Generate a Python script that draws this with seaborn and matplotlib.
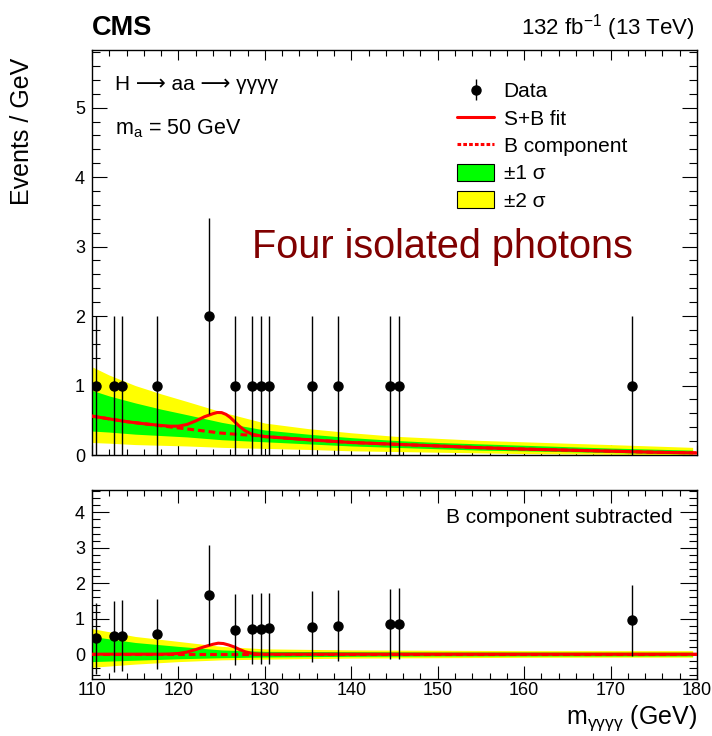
import numpy as np
import matplotlib
matplotlib.use("Agg")
import matplotlib.pyplot as plt
import seaborn as sns
from matplotlib.ticker import MultipleLocator
from matplotlib.patches import Patch
from matplotlib.lines import Line2D

# ---------------- data ----------------
bin_centers = [110.5, 112.5, 113.5, 117.5, 123.5, 126.5, 128.5, 129.5, 130.5,
               135.5, 138.5, 144.5, 145.5, 172.5]
counts = [1, 1, 1, 1, 2, 1, 1, 1, 1, 1, 1, 1, 1, 1]
count_err = [1, 1, 1, 1, 1.41, 1, 1, 1, 1, 1, 1, 1, 1, 1]
residuals = [0.45, 0.50, 0.52, 0.57, 1.66, 0.69, 0.71, 0.72, 0.73,
             0.78, 0.80, 0.85, 0.86, 0.95]

# fit curves, top panel
fit_x = [110, 112, 114, 116, 118, 119, 120, 121, 122, 123, 124, 124.5, 125,
         125.5, 126, 126.5, 127, 127.7, 128.5, 129.5, 130, 135, 140, 145, 150,
         155, 160, 165, 170, 175, 180]
sb_top = [0.56, 0.52, 0.48, 0.45, 0.425, 0.415, 0.415, 0.44, 0.49, 0.55, 0.595,
          0.612, 0.61, 0.585, 0.54, 0.48, 0.42, 0.35, 0.30, 0.275, 0.265, 0.22,
          0.18, 0.155, 0.13, 0.105, 0.085, 0.07, 0.055, 0.04, 0.03]
b_top = [0.56, 0.52, 0.48, 0.45, 0.42, 0.405, 0.39, 0.375, 0.36, 0.345, 0.33,
         0.32, 0.315, 0.31, 0.305, 0.30, 0.295, 0.29, 0.285, 0.275, 0.265, 0.22,
         0.18, 0.155, 0.13, 0.105, 0.085, 0.07, 0.055, 0.04, 0.03]

# uncertainty bands, top panel
top_band_x = [110, 112, 115, 118, 121, 125, 130, 135, 140, 145, 150, 155, 160, 170, 179.5]
top_2hi = [1.27, 1.15, 1.00, 0.88, 0.77, 0.62, 0.46, 0.38, 0.32, 0.27, 0.24, 0.21, 0.19, 0.15, 0.11]
top_1hi = [0.93, 0.85, 0.75, 0.66, 0.58, 0.47, 0.36, 0.30, 0.25, 0.21, 0.18, 0.16, 0.14, 0.10, 0.07]
top_1lo = [0.345, 0.33, 0.30, 0.28, 0.26, 0.22, 0.19, 0.16, 0.13, 0.11, 0.09, 0.07, 0.06, 0.035, 0.015]
top_2lo = [0.18, 0.17, 0.15, 0.14, 0.13, 0.11, 0.095, 0.08, 0.06, 0.05, 0.04, 0.03, 0.02, 0.01, 0.0]

# bottom panel (B component subtracted)
sig_x = [110, 118, 119, 120, 121, 122, 123, 124, 124.6, 125.2, 125.8, 126.5, 127,
         127.7, 128.5, 129.5, 180]
sig_bot = [0, 0, 0.005, 0.02, 0.06, 0.13, 0.21, 0.28, 0.31, 0.30, 0.26, 0.20,
           0.14, 0.07, 0.02, 0, 0]
b_bot_x = [110, 180]
b_bot = [0, 0]
bot_band_x = [110, 115, 120, 125, 130, 140, 150, 160, 170, 179.5]
bot_2hi = [0.72, 0.50, 0.36, 0.22, 0.15, 0.12, 0.11, 0.10, 0.10, 0.10]
bot_1hi = [0.50, 0.33, 0.22, 0.12, 0.08, 0.07, 0.06, 0.06, 0.055, 0.055]
bot_1lo = [-0.21, -0.17, -0.13, -0.10, -0.08, -0.06, -0.05, -0.05, -0.05, -0.05]
bot_2lo = [-0.37, -0.28, -0.21, -0.16, -0.14, -0.11, -0.10, -0.09, -0.085, -0.085]

# ---------------- style ----------------
sns.set_theme(style="ticks")
plt.rcParams["font.family"] = ["Liberation Sans", "DejaVu Sans"]
plt.rcParams["mathtext.fontset"] = "custom"
plt.rcParams["mathtext.rm"] = "Liberation Sans"
plt.rcParams["mathtext.it"] = "Liberation Sans:italic"
plt.rcParams["axes.linewidth"] = 1.0
for key in ("text.color", "axes.labelcolor", "xtick.color", "ytick.color",
            "axes.edgecolor", "xtick.labelcolor", "ytick.labelcolor"):
    plt.rcParams[key] = "black"

YELLOW = "#ffff00"
GREEN = "#00ff00"
RED = "#ff0000"

W, H = 712, 736
fig = plt.figure(figsize=(W / 100, H / 100), dpi=100)


def px_axes(l, t, r, b):
    return fig.add_axes([l / W, 1 - b / H, (r - l) / W, (b - t) / H])


ax1 = px_axes(92, 50, 697, 455)
ax2 = px_axes(92, 490, 697, 679)

# ---------------- top panel ----------------
ax1.fill_between(top_band_x, top_2lo, top_2hi, color=YELLOW, lw=0, zorder=1)
ax1.fill_between(top_band_x, top_1lo, top_1hi, color=GREEN, lw=0, zorder=2)
sns.lineplot(x=fit_x, y=b_top, ax=ax1, color=RED, lw=2.2, linestyle=(0, (2.2, 1.3)), zorder=3)
sns.lineplot(x=fit_x, y=sb_top, ax=ax1, color=RED, lw=2.2, zorder=4)
eb = ax1.errorbar(bin_centers, counts, yerr=count_err, fmt="o", color="black",
                  ms=6.5, elinewidth=1.0, capsize=0, zorder=5)

ax1.set_xlim(110, 180)
ax1.set_ylim(0, 5.83)

# ---------------- bottom panel ----------------
ax2.fill_between(bot_band_x, bot_2lo, bot_2hi, color=YELLOW, lw=0, zorder=1)
ax2.fill_between(bot_band_x, bot_1lo, bot_1hi, color=GREEN, lw=0, zorder=2)
sns.lineplot(x=b_bot_x, y=b_bot, ax=ax2, color=RED, lw=2.2, linestyle=(0, (2.2, 1.3)), zorder=3)
sns.lineplot(x=sig_x, y=sig_bot, ax=ax2, color=RED, lw=2.2, zorder=4)
ax2.errorbar(bin_centers, residuals, yerr=count_err, fmt="o", color="black",
             ms=6.5, elinewidth=1.0, capsize=0, zorder=5)
ax2.set_xlim(110, 180)
ax2.set_ylim(-0.7, 4.63)

# ---------------- ticks ----------------
for ax in (ax1, ax2):
    ax.xaxis.set_major_locator(MultipleLocator(10))
    ax.xaxis.set_minor_locator(MultipleLocator(2))
    ax.yaxis.set_major_locator(MultipleLocator(1))
    ax.yaxis.set_minor_locator(MultipleLocator(0.2))
    ax.tick_params(which="both", direction="in", top=True, right=True,
                   width=0.8, colors="black", labelsize=13)
    for s in ax.spines.values():
        s.set_color("black")
    ax.set_xlabel("")
    ax.set_ylabel("")

ax1.tick_params(axis="x", which="major", length=7.5, labelbottom=False)
ax1.tick_params(axis="x", which="minor", length=4)
ax1.tick_params(axis="y", which="major", length=11, pad=5)
ax1.tick_params(axis="y", which="minor", length=5.8)
ax2.tick_params(axis="x", which="major", length=9.4, pad=2)
ax2.tick_params(axis="x", which="minor", length=4.5)
ax2.tick_params(axis="y", which="major", length=12, pad=5)
ax2.tick_params(axis="y", which="minor", length=6)

# ---------------- legend ----------------
handles = [eb,
           Line2D([], [], color=RED, lw=2.2),
           Line2D([], [], color=RED, lw=2.2, linestyle=(0, (1.2, 0.7))),
           Patch(facecolor=GREEN, edgecolor="black", lw=0.8),
           Patch(facecolor=YELLOW, edgecolor="black", lw=0.8)]
labels = ["Data", "S+B fit", "B component", "±1 σ", "±2 σ"]
ax1.legend(handles, labels, loc="upper left", bbox_to_anchor=(0.603, 0.922),
           frameon=False, fontsize=15, handlelength=1.8, handleheight=0.9,
           handletextpad=0.45, labelspacing=0.36, borderpad=0, borderaxespad=0)

# ---------------- texts ----------------
fig.text(92 / W, 1 - 28 / H, "CMS", fontsize=19.5, fontweight="bold",
         ha="left", va="center")
fig.text(695 / W, 1 - 28 / H, "132 fb$^{\\mathrm{-1}}$ (13 TeV)", fontsize=16,
         ha="right", va="center")
ax1.text(112.65, 5.33, "H ⟶ aa ⟶ γγγγ", fontsize=15, ha="left", va="center")
ax1.text(112.65, 4.69, "m$_{\\mathrm{a}}$ = 50 GeV", fontsize=15.5, ha="left", va="center")
ax1.text(128.5, 3.0, "Four isolated photons", fontsize=28.5, color="#800000",
         ha="left", va="center")
ax2.text(177.2, 3.85, "B component subtracted", fontsize=15, ha="right", va="center")
fig.text(697 / W, 1 - 718 / H, "m$_{\\mathrm{γγγγ}}$ (GeV)", fontsize=18,
         ha="right", va="center")
fig.text(22 / W, 1 - 58 / H, "Events / GeV", fontsize=18, rotation=90,
         ha="center", va="top")

fig.savefig("out.png", dpi=100)
